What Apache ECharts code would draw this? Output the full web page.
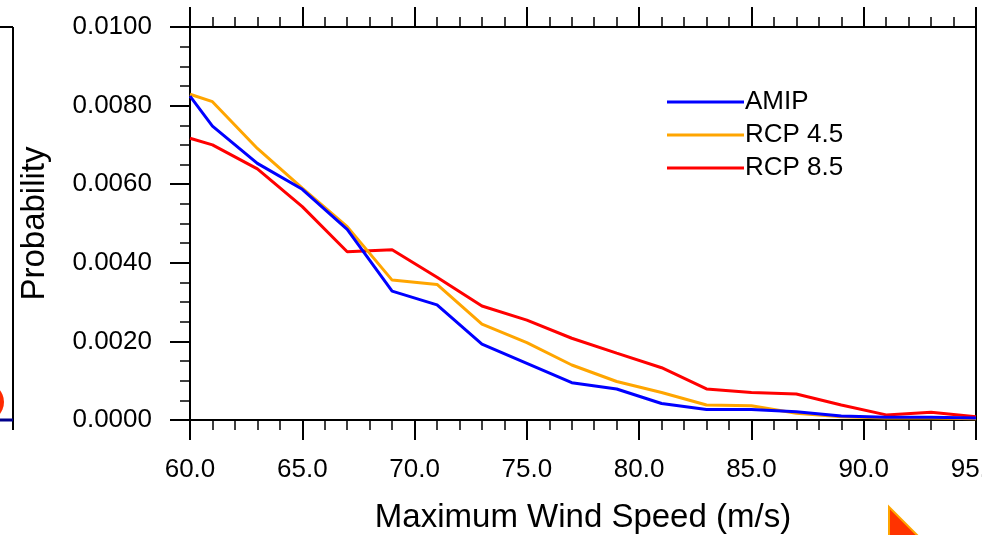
<!DOCTYPE html>
<html>
<head>
<meta charset="utf-8">
<script src="https://cdn.jsdelivr.net/npm/echarts@6/dist/echarts.min.js"></script>
<style>
html, body { margin: 0; padding: 0; background: #fff; }
#main { width: 982px; height: 535px; }
</style>
</head>
<body>
<div id="main"></div>
<script>
var windSpeed = [60, 61, 63, 65, 67, 69, 71, 73, 75, 77, 79, 81, 83, 85, 87, 89, 91, 93, 95];
var amip  = [0.00824, 0.00748, 0.00653, 0.00587, 0.00485, 0.00328, 0.00293, 0.00193, 0.00144, 0.00095, 0.00079, 0.00042, 0.00027, 0.00027, 0.00021, 0.00010, 0.00007, 0.00007, 0.00005];
var rcp45 = [0.00829, 0.00810, 0.00691, 0.00590, 0.00492, 0.00356, 0.00345, 0.00244, 0.00197, 0.00140, 0.00098, 0.00070, 0.00038, 0.00036, 0.00017, 0.00008, 0.00005, 0.00005, 0.00003];
var rcp85 = [0.00717, 0.00700, 0.00639, 0.00543, 0.00428, 0.00433, 0.00363, 0.00290, 0.00254, 0.00208, 0.00170, 0.00133, 0.00079, 0.00070, 0.00066, 0.00038, 0.00013, 0.00020, 0.00008];
var seriesNames = ['AMIP', 'RCP 4.5', 'RCP 8.5'];
var seriesColors = ['#0000ff', '#ffa500', '#ff0000'];

function pairs(vals) {
    return windSpeed.map(function (x, i) { return [x, vals[i]]; });
}

var font = 'Liberation Sans, Arial, Helvetica, sans-serif';
var dom = document.getElementById('main');
var myChart = echarts.init(dom);

var tickStyle = { color: '#000', width: 2 };
var minorStyle = { color: '#000', width: 1.5 };

option = {
    backgroundColor: '#fff',
    animation: false,
    grid: { left: 190, right: 6, top: 27, bottom: 115, outerBoundsMode: 'none', containLabel: false },
    legend: {
        orient: 'vertical',
        left: 667,
        top: 86,
        padding: 0,
        itemGap: 1,
        itemWidth: 77,
        itemHeight: 3,
        icon: 'rect',
        data: seriesNames,
        textStyle: { fontFamily: font, fontSize: 26, color: '#000', lineHeight: 32, padding: [0, 0, 0, -4] }
    },
    xAxis: [{
        type: 'value',
        min: 60,
        max: 95,
        interval: 5,
        name: 'Maximum Wind Speed (m/s)',
        nameLocation: 'middle',
        nameGap: 81,
        nameTextStyle: { fontFamily: font, fontSize: 33, color: '#000' },
        axisLine: { show: true, onZero: false, lineStyle: tickStyle },
        axisTick: { show: true, inside: false, length: 20, lineStyle: tickStyle },
        minorTick: { show: true, splitNumber: 5, length: 10, lineStyle: minorStyle },
        axisLabel: {
            margin: 37,
            fontFamily: font,
            fontSize: 26,
            color: '#000',
            hideOverlap: false,
            formatter: function (v) { return v.toFixed(1); }
        },
        splitLine: { show: false }
    }, {
        type: 'value',
        position: 'top',
        min: 60,
        max: 95,
        interval: 5,
        axisLine: { show: true, onZero: false, lineStyle: tickStyle },
        axisTick: { show: true, inside: false, length: 20, lineStyle: tickStyle },
        minorTick: { show: true, splitNumber: 5, length: 10, lineStyle: minorStyle },
        axisLabel: { show: false },
        splitLine: { show: false }
    }],
    yAxis: [{
        type: 'value',
        min: 0,
        max: 0.01,
        interval: 0.002,
        name: 'Probability',
        nameLocation: 'middle',
        nameGap: 139,
        nameTextStyle: { fontFamily: font, fontSize: 33, color: '#000' },
        axisLine: { show: true, onZero: false, lineStyle: tickStyle },
        axisTick: { show: true, inside: false, length: 20, lineStyle: tickStyle },
        minorTick: { show: true, splitNumber: 4, length: 10, lineStyle: minorStyle },
        axisLabel: {
            margin: 38,
            fontFamily: font,
            fontSize: 26,
            color: '#000',
            formatter: function (v) { return v.toFixed(4); }
        },
        splitLine: { show: false }
    }, {
        type: 'value',
        position: 'right',
        min: 0,
        max: 0.01,
        axisLine: { show: true, onZero: false, lineStyle: tickStyle },
        axisTick: { show: false },
        axisLabel: { show: false },
        splitLine: { show: false }
    }],
    series: [amip, rcp45, rcp85].map(function (vals, i) {
        return {
            name: seriesNames[i],
            type: 'line',
            data: pairs(vals),
            showSymbol: false,
            symbol: 'none',
            color: seriesColors[i],
            lineStyle: { color: seriesColors[i], width: 3 },
            z: 3 - i
        };
    }),
    graphic: [
        // edge of the neighbouring panel on the left
        { type: 'line', shape: { x1: 13, y1: 27, x2: 13, y2: 430 }, style: { stroke: '#000', lineWidth: 2 } },
        { type: 'line', shape: { x1: 0, y1: 27, x2: 13, y2: 27 }, style: { stroke: '#000', lineWidth: 2 } },
        { type: 'line', shape: { x1: 0, y1: 420, x2: 13, y2: 420 }, style: { stroke: '#00008b', lineWidth: 3 } },
        { type: 'circle', shape: { cx: -15, cy: 402, r: 19 }, style: { fill: '#ff2a00' } },
        // corner of a neighbouring marker at the bottom right
        { type: 'polygon', shape: { points: [[889, 507], [889, 540], [922, 540]] }, style: { fill: '#ff3300', stroke: '#ffa500', lineWidth: 2 } }
    ]
};

if (option && typeof option === 'object') {
    myChart.setOption(option, true);
}
</script>
</body>
</html>
